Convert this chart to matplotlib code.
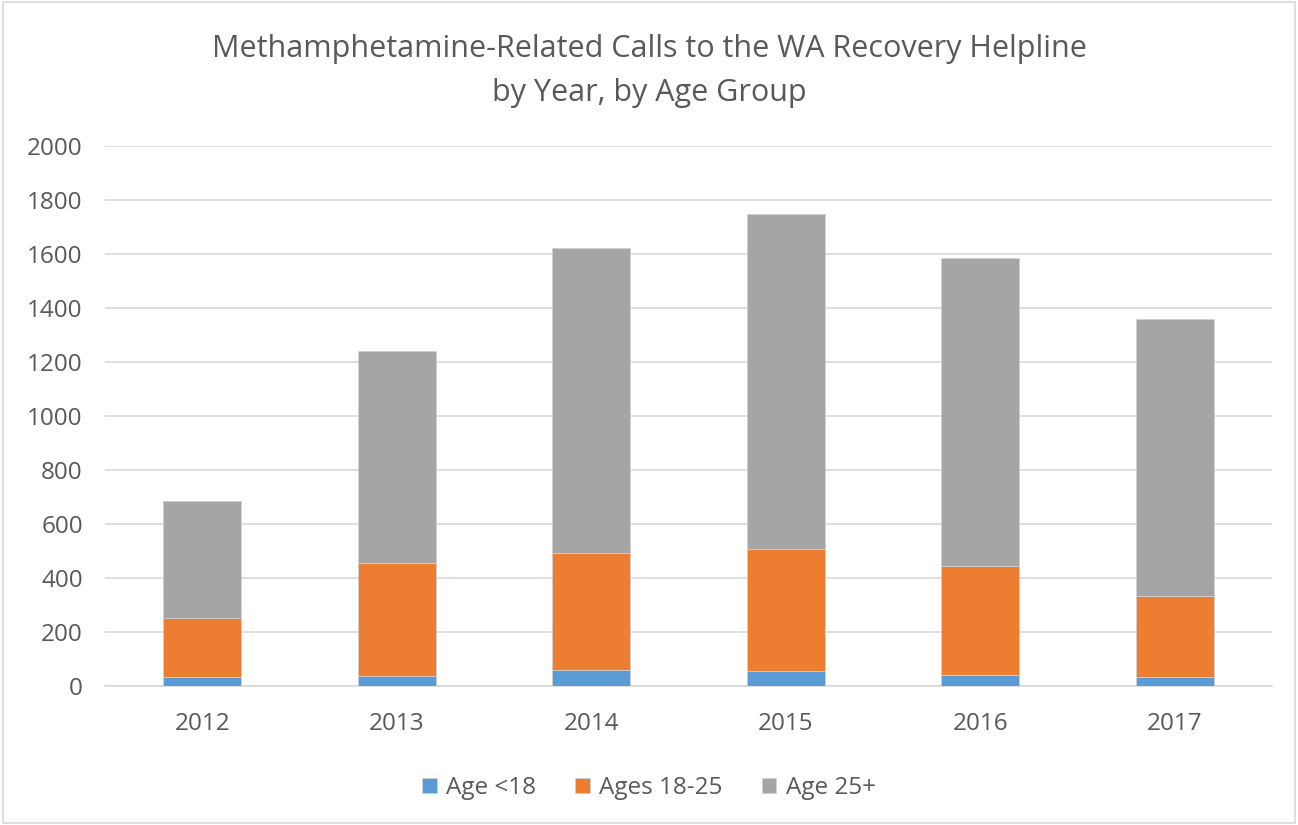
import numpy as np
import matplotlib.pyplot as plt

years = ['2012', '2013', '2014', '2015', '2016', '2017']
under18 = [32, 37, 61, 56, 41, 33]
ages18_25 = [221, 420, 433, 451, 403, 301]
over25 = [432, 784, 1127, 1242, 1140, 1026]

labels = ['Age <18', 'Ages 18-25', 'Age 25+']
colors = ['#5B9BD5', '#ED7D31', '#A5A5A5']

plt.rcParams['font.family'] = ['Open Sans', 'DejaVu Sans']

fig = plt.figure(figsize=(12.98, 8.25), dpi=100)
ax = fig.add_axes([105 / 1298, 139 / 825, 1167 / 1298, 540 / 825])

x = np.arange(len(years))
bottom = np.zeros(len(years))
for vals, lab, col in zip([under18, ages18_25, over25], labels, colors):
    ax.bar(x, vals, 0.4, bottom=bottom, color=col, label=lab,
           edgecolor='#d0d0d0', linewidth=0.6, zorder=3)
    bottom += np.array(vals)

ax.set_xlim(-0.5, 5.5)
ax.set_ylim(0, 2000)
ax.set_yticks(range(0, 2001, 200))
ax.set_xticks(x)
ax.set_xticklabels(years)
ax.grid(axis='y', color='#d9d9d9', linewidth=1.2, zorder=0)
for s in ['top', 'right', 'left']:
    ax.spines[s].set_visible(False)
ax.spines['bottom'].set_color('#d9d9d9')
ax.spines['bottom'].set_linewidth(1.2)
ax.tick_params(axis='both', length=0, labelsize=17.5, labelcolor='#595959')
ax.tick_params(axis='x', pad=19)
ax.tick_params(axis='y', pad=16)

fig.text(0.5, 0.941, 'Methamphetamine-Related Calls to the WA Recovery Helpline',
         ha='center', va='center', fontsize=22, color='#595959')
fig.text(0.5, 0.887, 'by Year, by Age Group',
         ha='center', va='center', fontsize=22, color='#595959')

fig.legend(loc='center', bbox_to_anchor=(0.5, 0.045), ncol=3, frameon=False,
           fontsize=17.5, labelcolor='#595959', handlelength=0.6, handleheight=0.6,
           handletextpad=0.4, columnspacing=1.6)

border = plt.Rectangle((0.002, 0.003), 0.996, 0.994, transform=fig.transFigure,
                       fill=False, edgecolor='#d9d9d9', linewidth=1.2)
fig.patches.append(border)

fig.savefig('out.png', dpi=100)
